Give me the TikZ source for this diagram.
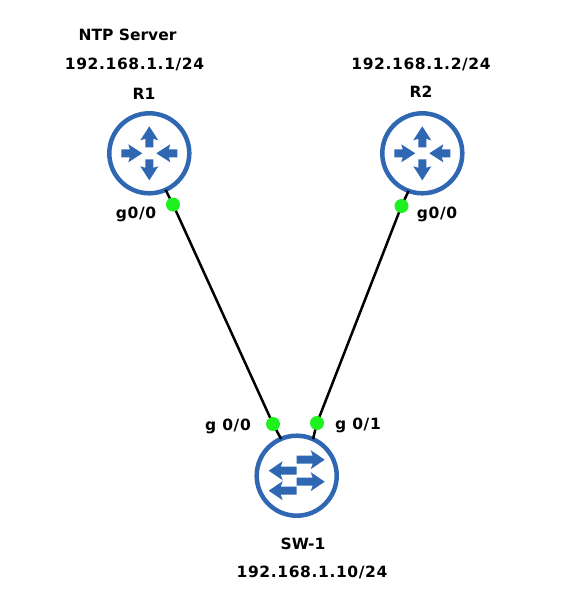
\documentclass[tikz,border=0pt]{standalone}
\usepackage{fontspec}
\setmainfont{DejaVu Sans}[BoldFont={DejaVu Sans Bold}]
\newfontfamily\lblfont{DejaVu Sans Bold}[LetterSpace=4]
\newfontfamily\tightfont{DejaVu Sans Bold}[LetterSpace=0]
\definecolor{iconblue}{HTML}{2F67B2}
\definecolor{portgreen}{HTML}{1FF01F}
\tikzset{
  device/.style={circle,draw=iconblue,line width=4.5pt,fill=white,minimum size=80pt,inner sep=0pt,outer sep=0pt},
  port/.style={circle,fill=portgreen,minimum size=14pt,inner sep=0pt,outer sep=0pt},
  link/.style={line width=2.5pt,black},
  lbl/.style={font=\fontsize{15.5}{17}\lblfont,text=black,inner sep=0pt,anchor=center},
  tightlbl/.style={font=\fontsize{15.5}{17}\tightfont,text=black,inner sep=0pt,anchor=center},
  arw/.pic={\fill[iconblue] (0,-4)--(8.5,-4)--(7,-9)--(21,0)--(7,9)--(8.5,4)--(0,4)--cycle;},
  swarw/.pic={\fill[iconblue] (0,-4)--(16,-4)--(14,-9.5)--(28,0)--(14,9.5)--(16,4)--(0,4)--cycle;},
  routericon/.pic={
    \pic[shift={(0,-6)},rotate=90] {arw};
    \pic[shift={(0,6)},rotate=-90] {arw};
    \pic[shift={(-28,0)}] {arw};
    \pic[shift={(28,0)},rotate=180] {arw};
  },
  switchicon/.pic={
    \pic[shift={(0,-16)}] {swarw};
    \pic[shift={(0,6)}] {swarw};
    \pic[shift={(0,-5)},rotate=180] {swarw};
    \pic[shift={(0,15)},rotate=180] {swarw};
  },
}
\begin{document}
\begin{tikzpicture}[x=1pt,y=-1pt]
\useasboundingbox[fill=white] (0,0) rectangle (566,610);
\node[device] (r1) at (149.3,153.3) {};
\node[device] (r2) at (422.3,153.3) {};
\node[device] (sw) at (296.7,475.7) {};
\pic at (r1) {routericon};
\pic at (r2) {routericon};
\pic at (sw) {switchicon};
\coordinate (c1) at (173,204.5);
\coordinate (c2) at (401.5,206);
\coordinate (c3) at (273,424);
\coordinate (c4) at (317,423);
\draw[link] (r1.-66) -- (c1) -- (c3) -- (sw.113);
\draw[link] (r2.-110) -- (c2) -- (c4) -- (sw.66);
\node[port] (p1) at (c1) {};
\node[port] (p2) at (c2) {};
\node[port] (p3) at (c3) {};
\node[port] (p4) at (c4) {};
\node[tightlbl] (t1) at (127.5,35) {NTP Server};
\node[lbl] (t2) at (134.5,64) {192.168.1.1/24};
\node[tightlbl] (t3) at (144,94) {R1};
\node[lbl] (t4) at (421,64) {192.168.1.2/24};
\node[tightlbl] (t5) at (421,92) {R2};
\node[lbl] (t6) at (136,214) {g0/0};
\node[lbl] (t7) at (437,214) {g0/0};
\node[lbl] (t8) at (228,426) {g 0/0};
\node[lbl] (t9) at (358,425) {g 0/1};
\node[tightlbl] (t10) at (303,544) {SW-1};
\node[lbl] (t11) at (312,572) {192.168.1.10/24};
\end{tikzpicture}
\end{document}
